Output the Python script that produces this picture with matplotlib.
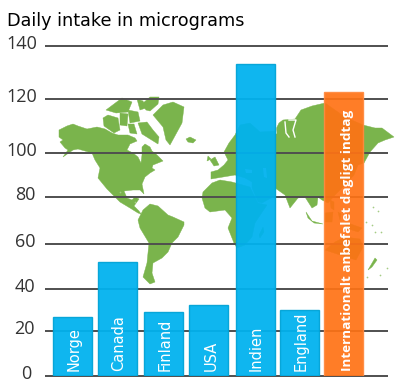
import numpy as np
import matplotlib
matplotlib.use('Agg')
import matplotlib.pyplot as plt
from matplotlib.patches import Polygon
from matplotlib.transforms import Affine2D

# values
countries = ['Norge', 'Canada', 'Finland', 'USA', 'Indien', 'England']
intake = [26.6, 51.9, 28.9, 32.3, 133.3, 29.9]
recommended_label = 'Internationalt anbefalet dagligt indtag'
recommended = [122.5]
y_ticks = [0, 20, 40, 60, 80, 100, 120, 140]
title = 'Daily intake in micrograms'

# the axis in the original is not evenly spaced, pixel height of every tick
tick_height = [0, 45.5, 87, 132, 179, 223.5, 277.5, 330]

# bar positions, x axis runs in pixels
bar_x = [72.5, 117.5, 163.5, 208.5, 255.2, 299.5]
rec_x = [343.5]
label_x = [74, 119, 165, 211, 256, 301]

# background map outlines in pixels of the image
north_america = [(59,130),(67,126),(73,124),(78,126),(87,129),(97,127),(105,129),(112,133),(118,135),
    (128,135),(135,138),(137,141),(130,144),(127,150),(133,153),(138,157),(141,163),(142,155),(142,147),
    (145,144),(150,147),(152,151),(157,155),(163,161),(158,163),(153,165),(152,168),(155,170),(150,173),
    (145,177),(142,184),(144,194),(140,190),(133,190),(124,191),(127,198),(132,200),(135,197),(139,199),
    (134,206),(139,211),(141,214),(138,213),(130,208),(120,202),(113,195),(107,189),(98,178),(100,168),
    (95,160),(92,153),(78,149),(73,150),(63,157),(68,150),(65,148),(60,142),(63,140),(59,137)]
south_america = [(138,220),(143,210),(150,204),(158,206),(168,215),(173,217),(184,222),(184,225),(178,237),
    (172,243),(168,252),(162,258),(153,263),(152,273),(155,282),(150,284),(143,277),(147,263),(149,243),(140,228)]
greenland = [(153,115),(163,105),(173,102),(184,107),(182,123),(170,145),(166,140),(163,127)]
iceland = [(186,139),(190,137),(196,140),(193,143),(188,142)]
arctic = [
    [(138,123),(147,122),(153,130),(159,137),(158,144),(150,139),(142,134)],
    [(142,104),(150,97),(159,97),(158,104),(150,111),(146,110)],
    [(103,118),(108,115),(118,118),(120,130),(114,133),(104,126)],
    [(106,110),(122,98),(132,102),(128,112),(116,113)],
    [(120,113),(128,114),(127,126),(120,125)],
    [(128,110),(138,112),(140,121),(130,123)],
    [(137,99),(143,101),(146,108),(140,110)],
    [(128,124),(134,124),(137,134),(130,133)]]
eurasia = [(211,172),(218,170),(224,165),(228,160),(224,152),(229,143),(235,135),(240,125),(250,123),(260,132),
    (275,131),(279,123),(283,120),(295,119),(301,110),(312,106),(325,103),(345,117),(363,125),(375,128),
    (382,128),(394,137),(385,140),(378,143),(370,152),(364,163),(358,165),(354,175),(345,185),(335,195),
    (328,203),(322,200),(318,197),(317,205),(312,208),(305,197),(298,198),(290,208),(285,195),(275,188),
    (275,196),(262,203),(258,202),(252,188),(252,182),(245,178),(235,175),(211,179)]
britain = [[(210,160),(215,157),(219,165),(214,166)], [(211,159),(207,161),(208,156)]]
africa = [(202,198),(203,192),(212,183),(220,180),(232,182),(250,187),(258,203),(267,205),(255,223),(252,237),
    (245,245),(237,248),(234,243),(228,228),(232,218),(225,210),(210,212),(205,208)]
madagascar = [(259,235),(263,227),(264,232),(260,238)]
oceania = [
    [(325,250),(335,242),(345,237),(360,239),(363,247),(356,260),(340,255)],
    [(306,212),(312,221),(323,224),(314,223),(308,218)],
    [(325,213),(333,212),(332,222),(325,222)],
    [(330,200),(334,202),(334,210),(331,208)],
    [(338,212),(341,214),(340,220)],
    [(345,222),(362,228),(358,232),(346,228)],
    [(368,270),(375,258),(377,260),(372,267)]]
islands = [(366,222),(372,225),(375,232),(381,232),(373,207),(378,211),(367,277),(380,275),(387,268),(120,192),(135,202)]
water = [[(245,169),(252,170),(252,173),(246,173)], [(263,168),(266,168),(267,178),(264,177)]]
ob_bays = [[(275,123),(276,133)], [(285,122),(286,133),(289,137)], [(289,120),(296,120),(293,130),(295,137)]]

fig = plt.figure(figsize=(4.09, 3.84), dpi=100)
ax = fig.add_axes([45.5/409, 8/384, 342.2/409, 330/384])
ax.patch.set_visible(False)

def to_height(v):
    return np.interp(v, y_ticks, tick_height)

def from_height(h):
    return np.interp(h, tick_height, y_ticks)

ax.set_yscale('function', functions=(to_height, from_height))
ax.set_xlim(45.5, 387.7)
ax.set_ylim(0, 140)

# map drawn in image pixels, y pointing down
px = Affine2D().scale(1, -1).translate(0, 384)
green = '#7ab44c'
land = [north_america, south_america, greenland, iceland, eurasia, africa, madagascar] + arctic + britain + oceania
for shape in land:
    ax.add_patch(Polygon(shape, closed=True, fc=green, ec=green, lw=0.3, transform=px, clip_on=False, zorder=1))
for shape in water:
    ax.add_patch(Polygon(shape, closed=True, fc='white', ec='none', transform=px, clip_on=False, zorder=1.1))
for bay in ob_bays:
    xs, ys = zip(*bay)
    ax.plot(xs, ys, color='white', lw=1, transform=px, clip_on=False, zorder=1.1)
xs, ys = zip(*islands)
ax.scatter(xs, ys, s=1.5, color='#a5cc85', linewidths=0, transform=px, clip_on=False, zorder=1)

ax.hlines(y_ticks, 45.5, 387.7, color='#4f4f4f', lw=1.4, clip_on=False, zorder=2)

ax.bar(bar_x, intake, width=39, color='#00b2ef', alpha=0.94, edgecolor='#00a3d6', linewidth=1, zorder=3)
ax.bar(rec_x, recommended, width=39, color='#ff7214', alpha=0.92, edgecolor='#ff8a40', linewidth=1, zorder=3)

for name, x in zip(countries, label_x):
    ax.text(x, 371, name, transform=px, rotation=90, ha='center', va='bottom', color='white',
            fontsize=10.5, family='DejaVu Sans', zorder=4)
ax.text(347, 371, recommended_label, transform=px, rotation=90, ha='center', va='bottom', color='white',
        fontsize=9.7, fontweight='bold', family='Open Sans', zorder=4)

ax.set_yticks([])
ax.set_xticks([])
for side in ax.spines:
    ax.spines[side].set_visible(False)

# tick numbers do not line up exactly in the original
for v in y_ticks:
    right = 37 if v >= 100 else (35 if v > 0 else 31)
    ax.text(right, 384 - 8 - to_height(v) - 2, str(v), transform=px, ha='right', va='center',
            fontsize=13, family='Open Sans', color='#333333')

ax.text(7, 21, title, transform=px, ha='left', va='center', fontsize=12.7, family='DejaVu Sans', color='black')

fig.savefig('out.png', dpi=100)
